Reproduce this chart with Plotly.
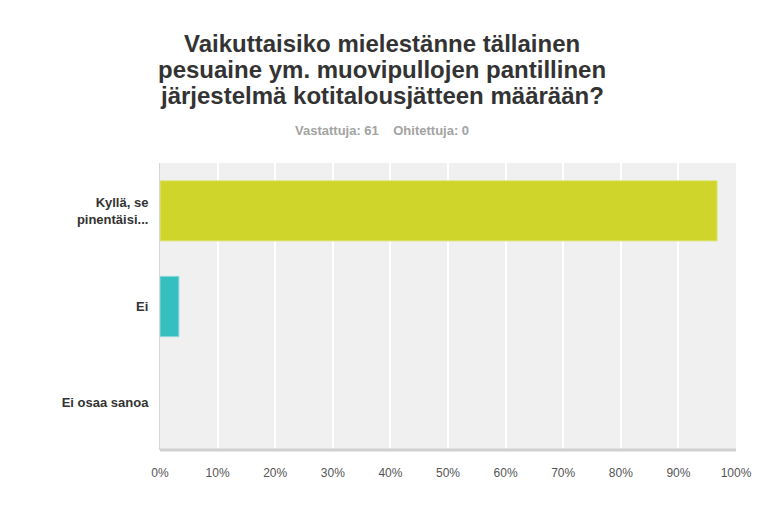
import plotly.graph_objects as go

categories = ["Kyllä, se<br>pinentäisi...", "Ei", "Ei osaa sanoa"]
shares = [59 / 61 * 100, 2 / 61 * 100, 0]
bar_colors = ["#cfd52a", "#35bfbf", "#9b9b9b"]
edge_colors = ["#e2e68a", "#8fd9d9", "#9b9b9b"]
edge_widths = [1, 1, 0]
tick_values = [0, 10, 20, 30, 40, 50, 60, 70, 80, 90, 100]
tick_labels = [f"{v}%" for v in tick_values]

title_lines = [
    "Vaikuttaisiko mielestänne tällainen",
    "pesuaine ym. muovipullojen pantillinen",
    "järjestelmä kotitalousjätteen määrään?",
]
subtitle_text = "<b>Vastattuja: 61&nbsp;&nbsp;&nbsp;&nbsp;Ohitettuja: 0</b>"

fig = go.Figure(go.Bar(
    x=shares,
    y=categories,
    orientation="h",
    marker=dict(color=bar_colors, line=dict(color=edge_colors, width=edge_widths)),
    hoverinfo="x+y",
))

# page body adds an 8px offset, so the figure is sized to fit inside it
fig.update_layout(
    width=759,
    height=504,
    margin=dict(l=152, r=31, t=155, b=62, autoexpand=False),
    paper_bgcolor="white",
    plot_bgcolor="#f0f0f0",
    font=dict(family="Liberation Sans, Arial, sans-serif", color="#333333"),
    bargap=0.37,
    showlegend=False,
)

# title, one annotation per line to keep the tight line spacing
for i, line in enumerate(title_lines):
    fig.add_annotation(
        text=f"<b>{line}</b>", xref="paper", yref="paper", x=0.385, y=1.0,
        yshift=155 - 35 - 26 * i, showarrow=False, xanchor="center", yanchor="middle",
        font=dict(size=24, color="#333333"),
    )
fig.add_annotation(
    text=subtitle_text, xref="paper", yref="paper", x=0.385, y=1.0,
    yshift=155 - 122, showarrow=False, xanchor="center", yanchor="middle",
    font=dict(size=13, color="#a3a3a3"),
)

fig.update_xaxes(
    range=[0, 100],
    tickvals=tick_values,
    ticktext=tick_labels,
    showgrid=True,
    gridcolor="white",
    gridwidth=2,
    zeroline=False,
    showline=False,
    ticks="",
    ticklabelstandoff=14,
    tickfont=dict(size=12, color="#555555"),
    fixedrange=True,
)
fig.update_yaxes(
    autorange="reversed",
    showgrid=False,
    zeroline=False,
    showline=True,
    linecolor="#d6d6d6",
    linewidth=1,
    ticks="",
    ticklabelstandoff=8,
    tickfont=dict(size=13, color="#333333", weight="bold"),
    fixedrange=True,
)

# bottom axis line drawn along the plot edge
fig.add_shape(type="line", xref="paper", yref="paper", x0=0, x1=1, y0=0, y1=0,
              line=dict(color="#d0d0d0", width=3))

fig.write_html("out.html")
